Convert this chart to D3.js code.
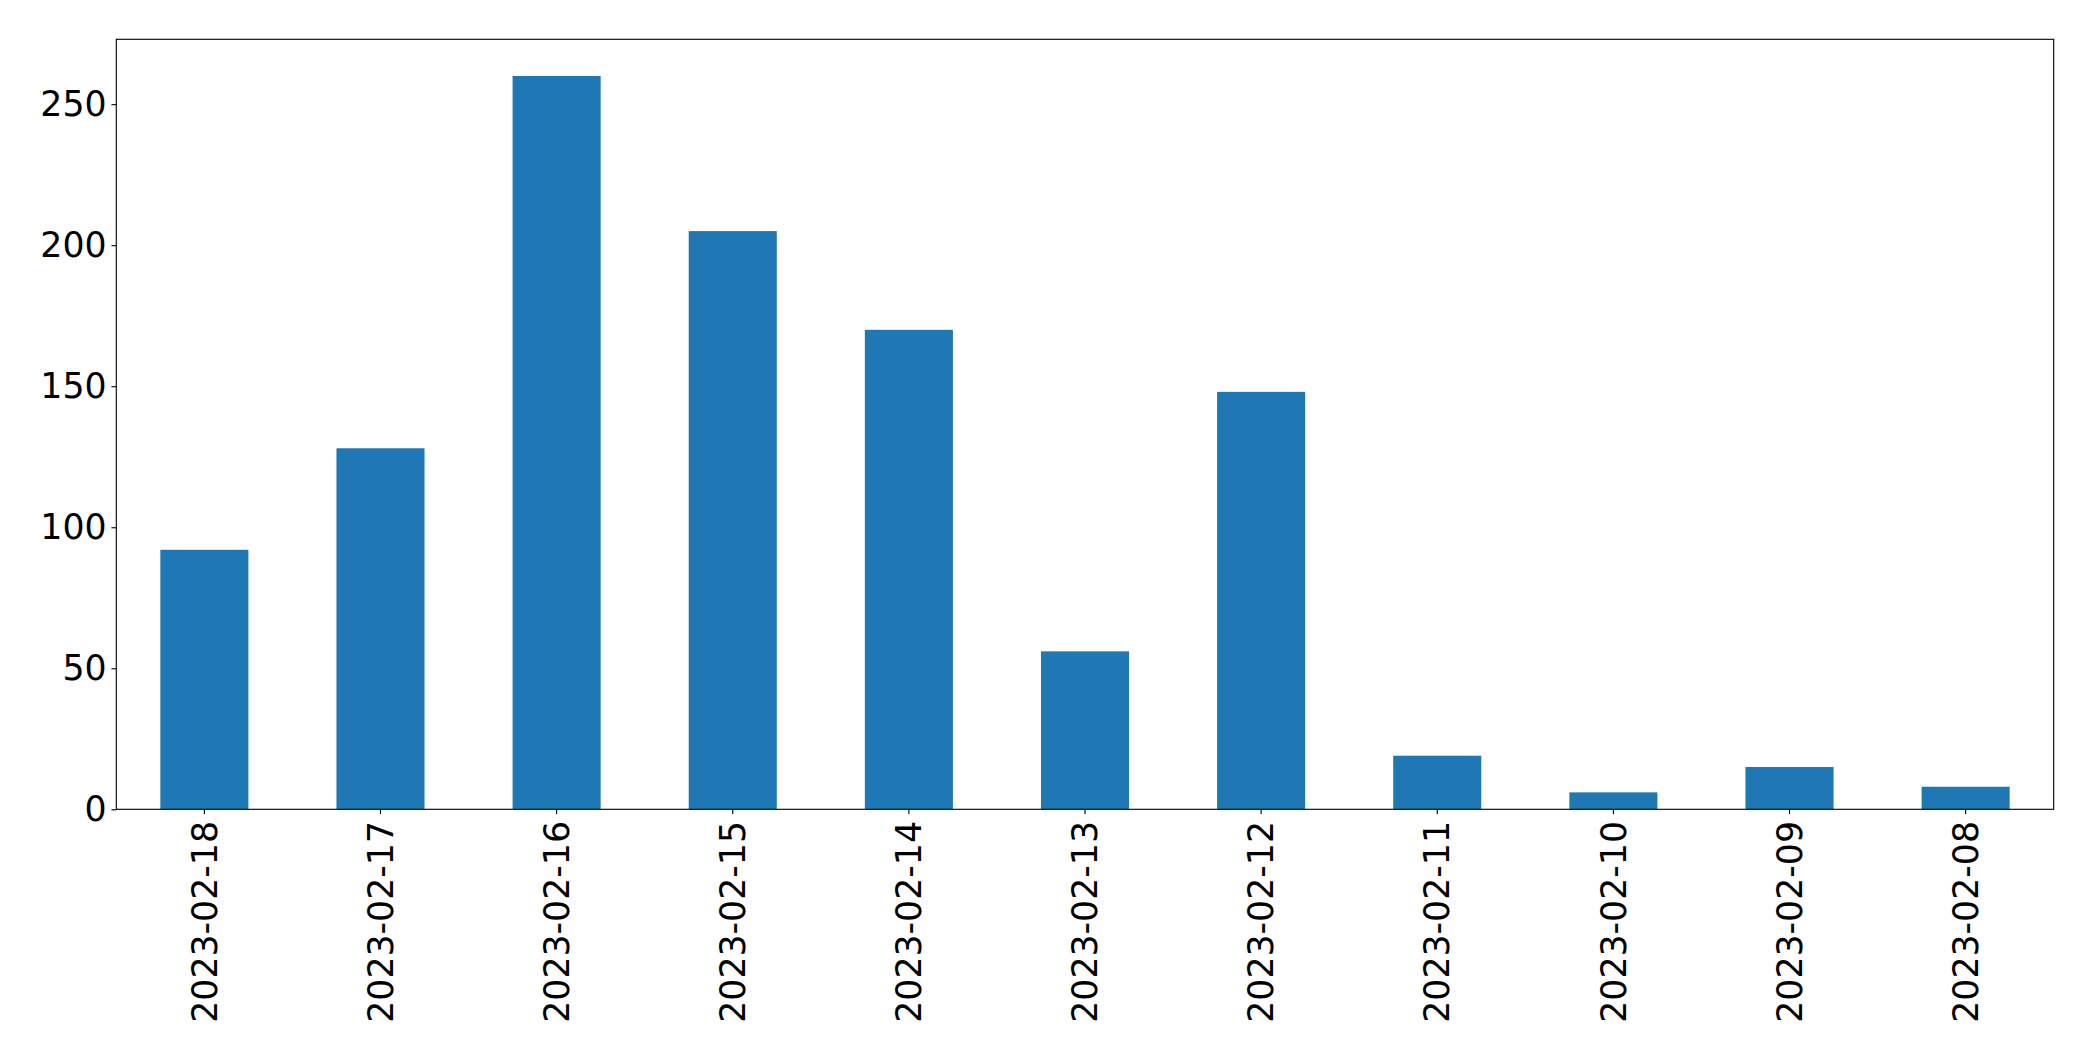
<!DOCTYPE html>
<html>
<head>
<meta charset="utf-8">
<script src="https://cdn.jsdelivr.net/npm/d3@7"></script>
<style>
  html, body { margin: 0; padding: 0; background: #fff; }
  svg { display: block; }
  text { font-family: "DejaVu Sans", sans-serif; }
</style>
</head>
<body>
<script>
const categories = ["2023-02-18","2023-02-17","2023-02-16","2023-02-15","2023-02-14","2023-02-13","2023-02-12","2023-02-11","2023-02-10","2023-02-09","2023-02-08"];
const values = [92, 128, 260, 205, 170, 56, 148, 19, 6, 15, 8];
const yTicks = [0, 50, 100, 150, 200, 250];

const width = 2093, height = 1061;
const margin = { left: 116.3, right: width - 2053.7, top: 39.3, bottom: height - 809.3 };
const fontSize = 34.72;
const tickLen = 4.86, tickPad = 4.86, lw = 1.11;

const svg = d3.select("body").append("svg").attr("width", width).attr("height", height);
const iw = width - margin.left - margin.right, ih = height - margin.top - margin.bottom;
const g = svg.append("g").attr("transform", `translate(${margin.left},${margin.top})`);

const x = d3.scaleBand().domain(categories).range([0, iw]).paddingInner(0.5).paddingOuter(0.25);
const y = d3.scaleLinear().domain([0, d3.max(values) * 1.05]).range([ih, 0]);

g.selectAll("rect.bar").data(values).join("rect")
  .attr("class", "bar")
  .attr("x", (d, i) => x(categories[i]))
  .attr("width", x.bandwidth())
  .attr("y", d => y(d))
  .attr("height", d => y(0) - y(d))
  .attr("fill", "#1f77b4");

// frame
g.append("rect").attr("x", 0).attr("y", 0).attr("width", iw).attr("height", ih)
  .attr("fill", "none").attr("stroke", "#000").attr("stroke-width", lw);

// y axis
const ya = g.append("g").call(d3.axisLeft(y).tickValues(yTicks).tickSize(tickLen).tickPadding(tickPad).tickFormat(d3.format("d")));
ya.select(".domain").remove();
ya.selectAll(".tick line").attr("stroke", "#000").attr("stroke-width", lw);
ya.selectAll(".tick text").attr("font-size", fontSize).attr("fill", "#000").attr("font-family", "DejaVu Sans");

// x axis
const xa = g.append("g").attr("transform", `translate(0,${ih})`)
  .call(d3.axisBottom(x).tickSize(tickLen).tickPadding(tickPad));
xa.select(".domain").remove();
xa.selectAll(".tick line").attr("stroke", "#000").attr("stroke-width", lw);
xa.selectAll(".tick text")
  .attr("font-size", fontSize).attr("fill", "#000").attr("font-family", "DejaVu Sans")
  .attr("text-anchor", "end")
  .attr("transform", "rotate(-90)")
  .attr("x", -(tickLen + tickPad + 2))
  .attr("y", 0)
  .attr("dy", "0.35em");
</script>
</body>
</html>
